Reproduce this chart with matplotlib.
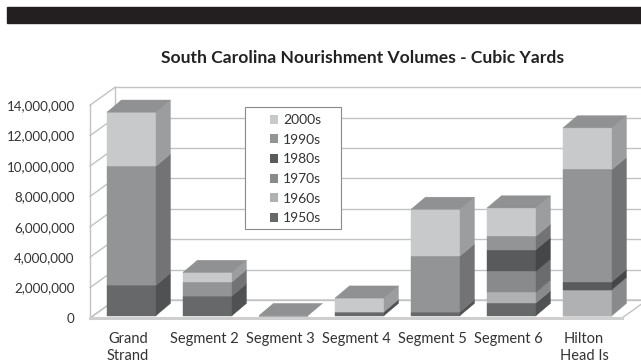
import matplotlib.pyplot as plt
from matplotlib.patches import Polygon, Rectangle, Patch
from matplotlib.colors import to_rgb

plt.rcParams['font.family'] = ['Lato', 'DejaVu Sans']

# ---------------- datos ----------------
categorias = ['Grand\nStrand', 'Segment 2', 'Segment 3', 'Segment 4',
              'Segment 5', 'Segment 6', 'Hilton\nHead Is']
decadas = ['1950s', '1960s', '1970s', '1980s', '1990s', '2000s']

v1950 = [2.00e6, 1.30e6, 0, 0.25e6, 0.24e6, 0.83e6, 0]
v1960 = [0, 0, 0, 0, 0, 0.70e6, 1.71e6]
v1970 = [0, 0, 0, 0, 0, 1.38e6, 0]
v1980 = [0, 0, 0, 0, 0, 1.43e6, 0.53e6]
v1990 = [7.83e6, 0.92e6, 0, 0, 3.68e6, 0.88e6, 7.37e6]
v2000 = [3.55e6, 0.62e6, 0, 0.90e6, 3.07e6, 1.86e6, 2.74e6]
series = [v1950, v1960, v1970, v1980, v1990, v2000]

colores = ['#67686a', '#b0b1b3', '#898a8c', '#595a5c', '#939496', '#c8c9cb']

yticks = [0, 2e6, 4e6, 6e6, 8e6, 10e6, 12e6, 14e6]

# ---------------- geometria pseudo 3D ----------------
W = 0.645          # ancho de barra (categorias)
DX, DY = 0.33, 1.18e6      # profundidad del piso/paredes
OX, OY = 0.046, 0.16e6     # frente de la barra respecto del frente del piso
BDX, BDY = 0.19, 0.80e6    # profundidad de la barra
X0, X1 = -0.5, 6.5         # extremos del piso
YMAX = 14e6
grid_c = '#c2c2c2'


def sombra(c, f):
    r, g, b = to_rgb(c)
    return (r * f, g * f, b * f)


fig = plt.figure(figsize=(6.41, 3.64), dpi=100)
W_PX, H_PX = 641, 364

# banda negra superior
fig.patches.append(Rectangle((7 / W_PX, 1 - 23 / H_PX), 1, 16 / H_PX,
                             transform=fig.transFigure, color='#231f20', zorder=0))

fig.text(363 / W_PX, 1 - 58 / H_PX, 'South Carolina Nourishment Volumes - Cubic Yards',
         ha='center', va='center', fontsize=12.6, fontweight='bold', color='#222222')

ax = fig.add_axes([90 / W_PX, (H_PX - 318) / H_PX, (641 - 90) / W_PX, (318 - 105.2) / H_PX])
ax.set_xlim(-0.5, 6.75)
ax.set_ylim(0, YMAX)
for s in ax.spines.values():
    s.set_visible(False)

# --- paredes y piso ---
ax.add_patch(Polygon([(X0, 0), (X1, 0), (X1 + DX, DY), (X0 + DX, DY)], closed=True,
                     facecolor='white', edgecolor=grid_c, lw=1.0, clip_on=False, zorder=1))
ax.plot([X0, X1], [0, 0], color='#cfcfcf', lw=2.2, clip_on=False, zorder=1.5)
for v in yticks:
    ax.plot([X0, X0 + DX], [v, v + DY], color=grid_c, lw=1.0, clip_on=False, zorder=1)
    ax.plot([X0 + DX, X1 + DX + 1], [v + DY, v + DY], color=grid_c, lw=1.0,
            clip_on=False, zorder=1)
ax.plot([X0, X0], [0, YMAX], color=grid_c, lw=1.0, clip_on=False, zorder=1)
ax.plot([X0 + DX, X0 + DX], [DY, YMAX + DY], color=grid_c, lw=1.0, clip_on=False, zorder=1)

# --- barras apiladas ---
x = list(range(len(categorias)))
bottom = [0.0] * len(x)
for k, vals in enumerate(series):
    xs = [xi + OX for xi in x]
    bs = [b + OY for b in bottom]
    ax.bar(xs, vals, width=W, bottom=bs, color=colores[k], edgecolor=colores[k],
           lw=0.3, zorder=3)
    for i, h in enumerate(vals):
        if h <= 0:
            continue
        xr = x[i] + OX + W / 2
        b = bottom[i] + OY
        lado = sombra(colores[k], 0.78)
        ax.add_patch(Polygon([(xr, b), (xr + BDX, b + BDY), (xr + BDX, b + h + BDY),
                              (xr, b + h)], closed=True, facecolor=lado, edgecolor=lado,
                             lw=0.3, clip_on=False, zorder=3))
    bottom = [b + v for b, v in zip(bottom, vals)]

# caras superiores
for i in x:
    top_k = len(series) - 1
    for k in range(len(series) - 1, -1, -1):
        if series[k][i] > 0:
            top_k = k
            break
    c = sombra(colores[top_k], 0.72)
    xl = i + OX - W / 2
    xr = i + OX + W / 2
    t = bottom[i] + OY
    ax.add_patch(Polygon([(xl, t), (xr, t), (xr + BDX, t + BDY), (xl + BDX, t + BDY)],
                         closed=True, facecolor=c, edgecolor=c, lw=0.3,
                         clip_on=False, zorder=4))

# --- ejes ---
ax.set_yticks(yticks)
ax.set_yticklabels([f'{int(v):,}' for v in yticks])
ax.set_xticks(x)
ax.set_xticklabels(categorias, linespacing=1.25)
ax.tick_params(axis='y', length=0, pad=11, labelsize=9.6, labelcolor='#333333')
ax.tick_params(axis='x', length=0, pad=10, labelsize=10.5, labelcolor='#333333')

# --- leyenda ---
ax.add_patch(Rectangle((245 / W_PX, 1 - 229 / H_PX), 96 / W_PX, 122 / H_PX,
                       transform=fig.transFigure, facecolor='white',
                       edgecolor='#8a8a8a', lw=0.8, clip_on=False, zorder=5))
handles = [Patch(facecolor=colores[k], edgecolor='none') for k in range(len(decadas))][::-1]
leg = ax.legend(handles, decadas[::-1], loc='upper left',
                bbox_to_anchor=(259 / W_PX, 1 - 103 / H_PX), bbox_transform=fig.transFigure,
                frameon=False, fontsize=10, handlelength=0.6, handleheight=0.6,
                handletextpad=0.35, labelspacing=0.55, borderpad=0.3)
leg.set_zorder(6)
for t in leg.get_texts():
    t.set_color('#333333')

fig.savefig('out.png', dpi=100)
